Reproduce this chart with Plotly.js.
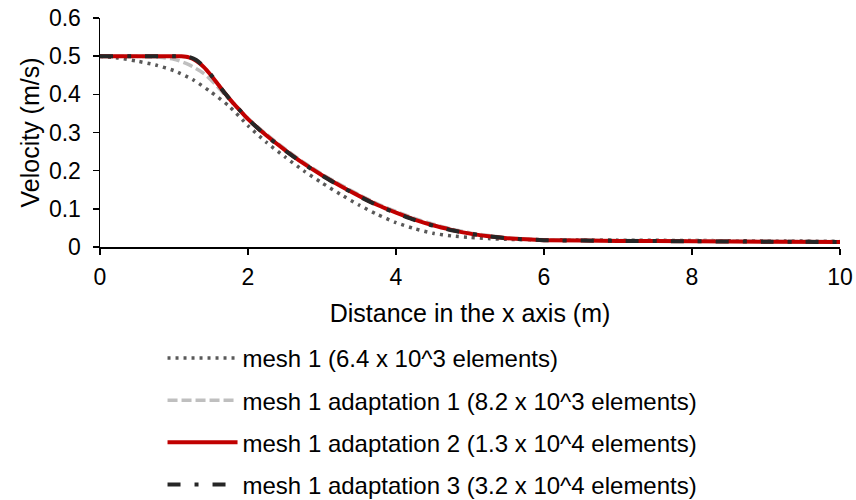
<!DOCTYPE html>
<html>
<head>
<meta charset="utf-8">
<script src="https://cdn.plot.ly/plotly-3.0.1.min.js"></script>
<style>
html, body { margin: 0; padding: 0; background: #fff; }
#chart { width: 856px; height: 500px; }
</style>
</head>
<body>
<div id="chart"></div>
<script>
// Series names
var seriesNames = [
  "mesh 1 (6.4 x 10^3 elements)",
  "mesh 1 adaptation 1 (8.2 x 10^3 elements)",
  "mesh 1 adaptation 2 (1.3 x 10^4 elements)",
  "mesh 1 adaptation 3 (3.2 x 10^4 elements)"
];

// mesh 1 (dotted)
var xMesh1 = [0, 0.25, 0.5, 0.75, 1.0, 1.25, 1.5, 1.75, 2.0, 2.25, 2.5, 2.75, 3.0, 3.25, 3.5, 3.75, 4.0, 4.25, 4.5, 4.75, 5.0, 5.25, 5.5, 6.0, 7.0, 8.0, 9.0, 10.0];
var yMesh1 = [0.5, 0.495, 0.487, 0.477, 0.462, 0.439, 0.406, 0.368, 0.318, 0.274, 0.236, 0.200, 0.168, 0.138, 0.110, 0.085, 0.064, 0.048, 0.036, 0.029, 0.025, 0.022, 0.020, 0.019, 0.018, 0.017, 0.016, 0.015];

// adaptation 1 (light grey dashed)
var xAdapt1 = [0, 0.5, 0.8, 1.0, 1.2, 1.4, 1.55, 1.7, 1.8, 2.0, 2.25, 2.5, 2.75, 3.0, 3.25, 3.5, 3.75, 4.0, 4.25, 4.5, 4.75, 5.0, 5.25, 5.5, 5.75, 6.0, 7.0, 8.0, 9.0, 10.0];
var yAdapt1 = [0.5, 0.4995, 0.497, 0.492, 0.478, 0.455, 0.428, 0.396, 0.376, 0.337, 0.295, 0.257, 0.222, 0.191, 0.163, 0.137, 0.113, 0.093, 0.075, 0.060, 0.047, 0.037, 0.030, 0.024, 0.021, 0.019, 0.017, 0.016, 0.015, 0.014];

// adaptation 2 (red solid)
var xAdapt2 = [0, 0.5, 1.0, 1.1, 1.2, 1.3, 1.4, 1.5, 1.6, 1.7, 1.8, 1.9, 2.0, 2.25, 2.5, 2.75, 3.0, 3.25, 3.5, 3.75, 4.0, 4.25, 4.5, 4.75, 5.0, 5.25, 5.5, 5.75, 6.0, 7.0, 8.0, 9.0, 10.0];
var yAdapt2 = [0.5, 0.5, 0.5, 0.4995, 0.497, 0.488, 0.472, 0.450, 0.425, 0.400, 0.377, 0.356, 0.335, 0.292, 0.254, 0.219, 0.188, 0.160, 0.134, 0.110, 0.090, 0.072, 0.057, 0.045, 0.035, 0.028, 0.023, 0.020, 0.018, 0.016, 0.015, 0.014, 0.013];

// adaptation 3 (dark dash-dot)
var xAdapt3 = [0, 0.5, 1.0, 1.1, 1.2, 1.3, 1.4, 1.5, 1.6, 1.7, 1.8, 1.9, 2.0, 2.25, 2.5, 2.75, 3.0, 3.25, 3.5, 3.75, 4.0, 4.25, 4.5, 4.75, 5.0, 5.25, 5.5, 5.75, 6.0, 7.0, 8.0, 9.0, 10.0];
var yAdapt3 = [0.5, 0.5, 0.5, 0.4995, 0.498, 0.490, 0.473, 0.451, 0.425, 0.400, 0.377, 0.356, 0.335, 0.291, 0.253, 0.218, 0.187, 0.159, 0.133, 0.109, 0.089, 0.071, 0.056, 0.044, 0.035, 0.028, 0.023, 0.020, 0.018, 0.016, 0.015, 0.014, 0.013];

var FONT = "Liberation Sans, Arial, sans-serif";

var traces = [
  {x: xMesh1, y: yMesh1, name: seriesNames[0], mode: "lines", legendgroup: "g1",
   line: {color: "#595959", width: 3.5, dash: "3px,5px", shape: "spline", smoothing: 0.6}},
  {x: xAdapt1, y: yAdapt1, name: seriesNames[1], mode: "lines", legendgroup: "g2",
   line: {color: "#BFBFBF", width: 3.5, dash: "10px,4px", shape: "spline", smoothing: 0.6}},
  {x: xAdapt2, y: yAdapt2, name: seriesNames[2], mode: "lines", legendgroup: "g3",
   line: {color: "#C00000", width: 4, shape: "spline", smoothing: 0.6}},
  {x: xAdapt3, y: yAdapt3, name: seriesNames[3], mode: "lines", legendgroup: "g4",
   line: {color: "#262626", width: 4, dash: "13px,14px,4px,14px", shape: "spline", smoothing: 0.6}}
];

var layout = {
  width: 856, height: 500,
  paper_bgcolor: "#fff", plot_bgcolor: "#fff",
  margin: {l: 100, r: 16, t: 18, b: 253, pad: 0, autoexpand: false},
  font: {family: FONT, size: 23, color: "#000"},
  showlegend: true,
  xaxis: {
    range: [0, 10], dtick: 2, tick0: 0,
    showgrid: false, zeroline: false,
    showline: true, linecolor: "#000", linewidth: 1.5,
    ticks: "outside", ticklen: 6, tickwidth: 1.5, tickcolor: "#000",
    ticklabelstandoff: 3,
    tickfont: {family: FONT, size: 23, color: "#000"},
    title: {text: "Distance in the x axis (m)", font: {family: FONT, size: 25, color: "#000"}, standoff: 15}
  },
  yaxis: {
    range: [0, 0.6], dtick: 0.1, tick0: 0,
    showgrid: false, zeroline: false,
    showline: true, linecolor: "#000", linewidth: 1.5,
    ticks: "outside", ticklen: 6, tickwidth: 1.5, tickcolor: "#000",
    ticklabelstandoff: 7,
    tickfont: {family: FONT, size: 23, color: "#000"},
    title: {text: "Velocity (m/s)", font: {family: FONT, size: 25, color: "#000"}, standoff: 2}
  },
  legend: {
    x: 0.0845, xanchor: "left", y: -0.388, yanchor: "top",
    orientation: "v", traceorder: "grouped", tracegroupgap: 8,
    itemwidth: 70,
    font: {family: FONT, size: 24, color: "#000"},
    bgcolor: "rgba(0,0,0,0)"
  }
};

Plotly.newPlot("chart", traces, layout, {staticPlot: true, displayModeBar: false});
</script>
</body>
</html>
